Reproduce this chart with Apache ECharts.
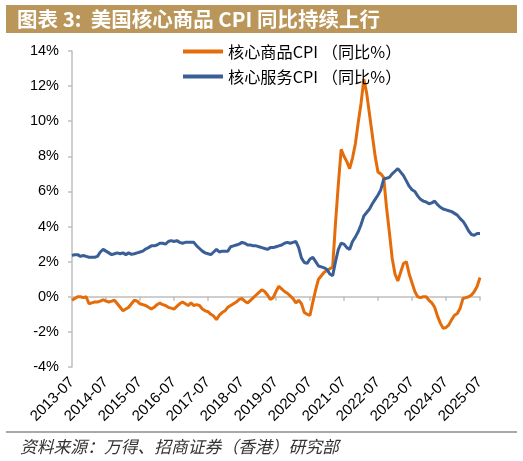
<!DOCTYPE html>
<html>
<head>
<meta charset="utf-8">
<script src="https://cdn.jsdelivr.net/npm/echarts@6/dist/echarts.min.js"></script>
<style>html,body{margin:0;padding:0;background:#fff;}#c{width:523px;height:461px;}</style>
</head>
<body>
<div id="c"></div>
<script>
// Months 2013-07 .. 2025-07
var startYear = 2013, startMonth = 7, monthCount = 145;
var categories = [];
for (var k = 0; k < monthCount; k++) {
  var m = startMonth - 1 + k;
  var y = startYear + Math.floor(m / 12);
  var mm = (m % 12) + 1;
  categories.push(y + '-' + (mm < 10 ? '0' + mm : mm));
}
var seriesNames = ['核心商品CPI （同比%）', '核心服务CPI （同比%）'];
var coreGoods = [
  -0.2, -0.1, 0.0, 0.0, -0.05, 0.0,
  -0.4, -0.35, -0.3, -0.3, -0.25, -0.17, -0.25, -0.3, -0.25, -0.2, -0.4, -0.6,
  -0.8, -0.7, -0.6, -0.4, -0.2, -0.25, -0.4, -0.45, -0.5, -0.6, -0.7, -0.6,
  -0.45, -0.35, -0.45, -0.5, -0.6, -0.65, -0.7, -0.55, -0.4, -0.3, -0.4, -0.5,
  -0.35, -0.5, -0.45, -0.5, -0.7, -0.8, -0.85, -1.0, -1.1, -1.3, -1.05, -0.9,
  -0.8, -0.6, -0.5, -0.4, -0.3, -0.15, -0.1, -0.25, -0.35, -0.2, -0.05, 0.1,
  0.25, 0.4, 0.3, 0.1, -0.15, -0.05, 0.3, 0.6, 0.45, 0.3, 0.2, 0.05,
  -0.1, -0.35, -0.2, -0.4, -0.9, -1.0, -1.05, -0.3, 0.4, 1.0, 1.2, 1.4,
  1.5, 1.6, 1.7, 4.2, 6.4, 8.4, 8.0, 7.7, 7.3, 7.9, 8.7, 9.9,
  11.0, 12.4, 11.6, 10.4, 9.2, 8.0, 7.1, 7.0, 6.8, 5.1, 3.7, 2.2,
  1.3, 0.9, 1.4, 1.9, 2.0, 1.3, 0.8, 0.3, 0.0, -0.05, 0.0, 0.0,
  -0.2, -0.35, -0.6, -1.1, -1.5, -1.8, -1.75, -1.6, -1.3, -1.05, -0.95, -0.65,
  -0.1, -0.05, 0.0, 0.1, 0.3, 0.6, 1.1
];
var coreServices = [
  2.35, 2.4, 2.4, 2.3, 2.35, 2.3,
  2.25, 2.25, 2.25, 2.3, 2.55, 2.7, 2.6, 2.5, 2.4, 2.45, 2.5, 2.45,
  2.5, 2.4, 2.5, 2.42, 2.45, 2.5, 2.55, 2.6, 2.72, 2.8, 2.9, 2.9,
  2.95, 3.05, 3.05, 3.0, 3.15, 3.2, 3.15, 3.2, 3.1, 3.05, 3.1, 3.1,
  3.1, 3.1, 2.9, 2.75, 2.6, 2.5, 2.45, 2.4, 2.55, 2.7, 2.55, 2.6,
  2.6, 2.6, 2.85, 2.9, 2.95, 3.0, 3.1, 3.05, 2.95, 2.95, 2.9, 2.9,
  2.85, 2.8, 2.75, 2.7, 2.8, 2.8, 2.85, 2.9, 2.95, 3.05, 3.1, 3.05,
  3.1, 3.15, 2.8, 2.2, 1.95, 1.9, 2.15, 2.25, 2.0, 1.75, 1.7, 1.65,
  1.55, 1.3, 1.2, 2.0, 2.7, 3.05, 3.0, 2.8, 2.7, 3.15, 3.4, 3.7,
  4.1, 4.6, 4.8, 5.0, 5.3, 5.55, 5.8, 6.1, 6.7, 6.75, 6.8, 7.0,
  7.15, 7.3, 7.1, 6.9, 6.6, 6.3, 6.1, 6.0, 5.75, 5.55, 5.45, 5.4,
  5.3, 5.35, 5.45, 5.25, 5.1, 5.0, 4.95, 4.9, 4.85, 4.75, 4.65, 4.45,
  4.3, 4.05, 3.75, 3.55, 3.5, 3.6, 3.6
];
var yTicks = { min: -4, max: 14, interval: 2 };
var titleText = '图表 3:  美国核心商品 CPI 同比持续上行';
var sourceText = '资料来源：万得、招商证券（香港）研究部';

var chart = echarts.init(document.getElementById('c'), null, { renderer: 'canvas' });
chart.setOption({
  animation: false,
  backgroundColor: '#fff',
  graphic: [
    { type: 'rect', shape: { x: 6, y: 5, width: 511, height: 28 }, style: { fill: '#BA965A' } },
    { type: 'text', x: 17, y: 19, style: { text: titleText, fill: '#fff', font: 'bold 20.5px "Noto Sans CJK SC", "Liberation Sans", sans-serif', verticalAlign: 'middle' } },
    { type: 'line', shape: { x1: 6, y1: 432, x2: 517, y2: 432 }, style: { stroke: '#8C8C8C', lineWidth: 1.5 } },
    { type: 'text', x: 20, y: 447, style: { text: sourceText, fill: '#333', font: 'italic 16.8px "Noto Sans CJK SC", sans-serif', verticalAlign: 'middle' } }
  ],
  legend: {
    orient: 'vertical',
    left: 183,
    top: 43,
    padding: 0,
    itemWidth: 40,
    itemHeight: 4,
    itemGap: 8,
    icon: 'rect',
    textStyle: { fontSize: 16.2, color: '#000', fontFamily: '"Noto Sans CJK SC", "Liberation Sans", sans-serif', lineHeight: 17 },
    data: seriesNames
  },
  grid: { left: 72, right: 43, top: 51, bottom: 94, containLabel: false },
  xAxis: [
    {
      type: 'category', data: categories, boundaryGap: false, position: 'bottom',
      axisLine: { show: false, onZero: false }, axisTick: { show: false },
      axisLabel: { interval: 11, rotate: 45, fontSize: 15, color: '#000', margin: 13, fontFamily: '"Liberation Sans", Arial, sans-serif' },
      splitLine: { show: false }
    },
    {
      type: 'category', data: categories, boundaryGap: false, position: 'bottom',
      axisLine: { show: true, onZero: true, lineStyle: { color: '#BFBFBF', width: 1.5 } },
      axisTick: { show: true, interval: 11, length: 4, lineStyle: { color: '#BFBFBF', width: 1.5 } },
      axisLabel: { show: false }, splitLine: { show: false }
    }
  ],
  yAxis: {
    type: 'value', min: yTicks.min, max: yTicks.max, interval: yTicks.interval,
    axisLine: { show: true, lineStyle: { color: '#BFBFBF', width: 1.5 } },
    axisTick: { show: true, length: 4, lineStyle: { color: '#BFBFBF', width: 1.5 } },
    axisLabel: { formatter: '{value}%', fontSize: 14.5, color: '#000', margin: 13, fontFamily: '"Liberation Sans", Arial, sans-serif' },
    splitLine: { show: false }
  },
  series: [
    { name: seriesNames[0], type: 'line', data: coreGoods, showSymbol: false, xAxisIndex: 0,
      itemStyle: { color: '#E46C0A' }, lineStyle: { color: '#E46C0A', width: 3 } },
    { name: seriesNames[1], type: 'line', data: coreServices, showSymbol: false, xAxisIndex: 0,
      itemStyle: { color: '#3A5F96' }, lineStyle: { color: '#3A5F96', width: 3 } }
  ]
});
</script>
</body>
</html>
